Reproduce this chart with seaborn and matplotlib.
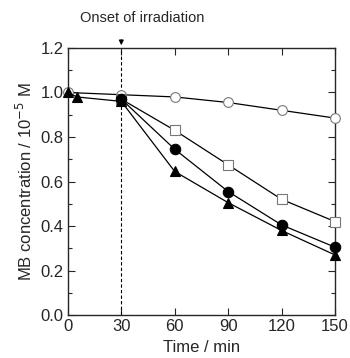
import numpy as np
import pandas as pd
import matplotlib
matplotlib.use("Agg")
import matplotlib.pyplot as plt
import seaborn as sns
from matplotlib.ticker import MultipleLocator

# time in min
time_tri = [0, 5, 30, 60, 90, 120, 150]
time_other = [0, 30, 60, 90, 120, 150]
time_late = [30, 60, 90, 120, 150]

open_circle = [1.00, 0.99, 0.98, 0.955, 0.92, 0.885]
open_square = [0.97, 0.83, 0.675, 0.52, 0.42]
filled_circle = [0.97, 0.745, 0.555, 0.405, 0.305]
filled_triangle = [1.00, 0.98, 0.96, 0.645, 0.505, 0.38, 0.27]

sns.set_style("ticks")
plt.rcParams['font.family'] = ['Liberation Sans', 'DejaVu Sans']

fig = plt.figure(figsize=(3.5, 3.58), dpi=100)
ax = fig.add_axes([0.194, 0.12, 0.763, 0.746])

ax.axvline(30, color="black", ls=(0, (3, 2)), lw=0.8, zorder=1)

styles = [
    (time_other, open_circle, "o", "white", "#777777", 7),
    (time_late, open_square, "s", "white", "#777777", 7),
    (time_late, filled_circle, "o", "black", "black", 7.5),
    (time_tri, filled_triangle, "^", "black", "black", 7.5),
]
for t, vals, m, fc, ec, ms in styles:
    df = pd.DataFrame({"t": t, "c": vals})
    sns.lineplot(data=df, x="t", y="c", ax=ax, color="black", lw=0.9,
                 marker=m, markersize=ms, markerfacecolor=fc,
                 markeredgecolor=ec, markeredgewidth=0.8, clip_on=False, zorder=3)

ax.set_xlim(0, 150)
ax.set_ylim(0, 1.2)
ax.set_xticks([0, 30, 60, 90, 120, 150])
ax.yaxis.set_major_locator(MultipleLocator(0.2))
ax.yaxis.set_minor_locator(MultipleLocator(0.1))
ax.yaxis.set_major_formatter(matplotlib.ticker.FormatStrFormatter("%.1f"))
ax.tick_params(which="both", direction="in", top=True, right=True, labelsize=12, pad=3)
ax.tick_params(which="major", length=5, width=0.8)
ax.tick_params(which="minor", length=3, width=0.8)
for s in ax.spines.values():
    s.set_linewidth(1.0)

ax.set_xlabel("Time / min", fontsize=12, labelpad=4)
ax.set_ylabel("MB concentration / 10$^{-5}$ M", fontsize=12, labelpad=4)

ax.annotate("", xy=(30, 1.2), xytext=(30, 1.25), xycoords="data",
            arrowprops=dict(arrowstyle="-|>", color="black", lw=0.8, mutation_scale=7),
            annotation_clip=False)
ax.text(7, 1.335, "Onset of irradiation", fontsize=10.5, ha="left", va="center")

fig.savefig("out.png", dpi=100)
